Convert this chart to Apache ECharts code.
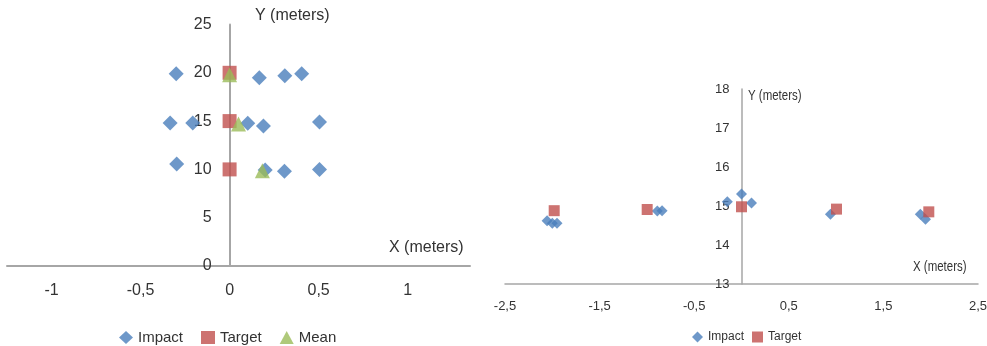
<!DOCTYPE html>
<html>
<head>
<meta charset="utf-8">
<script src="https://cdn.jsdelivr.net/npm/echarts@6/dist/echarts.min.js"></script>
<style>
  html, body { margin: 0; padding: 0; background: #fff; }
  #chart { width: 987px; height: 346px; }
</style>
</head>
<body>
<div id="chart"></div>
<script>
// Shot dispersion, three target distances (left panel)
const impactLeftX = [-0.30, 0.167, 0.31, 0.405, -0.334, -0.207, 0.102, 0.19, 0.505, -0.297, 0.20, 0.308, 0.505];
const impactLeftY = [19.9, 19.5, 19.7, 19.9, 14.8, 14.8, 14.77, 14.5, 14.9, 10.56, 9.94, 9.8, 10.0];
const targetLeftX = [0, 0, 0];
const targetLeftY = [20, 15, 10];
const meanLeftX = [0, 0.05, 0.184];
const meanLeftY = [19.8, 14.7, 9.87];

// Lateral offsets at 15 m (right panel)
const impactRightX = [-2.055, -2.0, -1.95, -0.89, -0.84, 0, -0.15, 0.106, 0.94, 1.89, 1.945];
const impactRightY = [14.62, 14.56, 14.56, 14.87, 14.88, 15.31, 15.11, 15.08, 14.79, 14.79, 14.66];
const targetRightX = [-1.98, -0.997, 0, 1.004, 1.98];
const targetRightY = [14.88, 14.91, 14.98, 14.92, 14.85];

const legendLeft = ['Impact', 'Target', 'Mean'];
const legendRight = ['Impact', 'Target'];

const BLUE = '#4A7EBB';
const RED = '#C0504D';
const GREEN = '#9BBB59';
const AXIS = '#a6a6a6';
const FONT = 'Liberation Sans, Arial, sans-serif';

const zip = (xs, ys) => xs.map((x, i) => [x, ys[i]]);
const comma = v => String(v).replace('.', ',');

// Panel geometry
const L = { left: 7, width: 463, top: 24.5, height: 241.5, xMin: -1.25, xMax: 1.35 };
const R = { left: 505, width: 473, top: 89, height: 195, xMin: -2.5, xMax: 2.5 };
// shift each vertical axis so it crosses the horizontal one at x = 0
const yShift = g => -(0 - g.xMin) / (g.xMax - g.xMin) * g.width;

const chart = echarts.init(document.getElementById('chart'), null, { renderer: 'canvas' });

chart.setOption({
  animation: false,
  backgroundColor: '#fff',
  grid: [
    { left: L.left, width: L.width, top: L.top, height: L.height, outerBoundsMode: 'none', containLabel: false },
    { left: R.left, width: R.width, top: R.top, height: R.height, outerBoundsMode: 'none', containLabel: false }
  ],
  xAxis: [
    {
      gridIndex: 0, type: 'value', min: L.xMin, max: L.xMax, interval: 0.25,
      axisLine: { onZero: false, lineStyle: { color: AXIS, width: 2 } },
      axisTick: { show: false },
      splitLine: { show: false },
      axisLabel: {
        margin: 17, color: '#333', fontFamily: FONT, fontSize: 16,
        showMinLabel: false, showMaxLabel: false,
        formatter: v => (Math.abs(v * 2 - Math.round(v * 2)) < 1e-6 ? comma(v) : '')
      }
    },
    {
      gridIndex: 1, type: 'value', min: R.xMin, max: R.xMax, interval: 1,
      axisLine: { onZero: false, lineStyle: { color: AXIS, width: 1.5 } },
      axisTick: { show: false },
      splitLine: { show: false },
      axisLabel: { margin: 16, color: '#333', fontFamily: FONT, fontSize: 13, formatter: comma }
    }
  ],
  yAxis: [
    {
      gridIndex: 0, type: 'value', min: 0, max: 25, interval: 5,
      position: 'left', offset: yShift(L),
      axisLine: { onZero: false, lineStyle: { color: AXIS, width: 2 } },
      axisTick: { show: false },
      splitLine: { show: false },
      axisLabel: { margin: 18, color: '#333', fontFamily: FONT, fontSize: 16 }
    },
    {
      gridIndex: 1, type: 'value', min: 13, max: 18, interval: 1,
      position: 'left', offset: yShift(R),
      axisLine: { onZero: false, lineStyle: { color: AXIS, width: 1.5 } },
      axisTick: { show: false },
      splitLine: { show: false },
      axisLabel: { margin: 12, color: '#333', fontFamily: FONT, fontSize: 13 }
    }
  ],
  legend: [
    {
      data: legendLeft, left: 114, top: 325, itemWidth: 14, itemHeight: 13, itemGap: 18,
      textStyle: { fontFamily: FONT, fontSize: 15, color: '#333' }
    },
    {
      data: legendRight, left: 687, top: 326, itemWidth: 11, itemHeight: 11, itemGap: 8,
      textStyle: { fontFamily: FONT, fontSize: 12, color: '#333' }
    }
  ],
  graphic: [
    { type: 'text', x: 255, y: 8, style: { text: 'Y (meters)', font: '16px ' + FONT, fill: '#333' } },
    { type: 'text', x: 389, y: 240, style: { text: 'X (meters)', font: '16px ' + FONT, fill: '#333' } },
    { type: 'text', x: 748, y: 89, scaleX: 0.82, style: { text: 'Y (meters)', font: '14px ' + FONT, fill: '#333' } },
    { type: 'text', x: 913, y: 260, scaleX: 0.82, style: { text: 'X (meters)', font: '14px ' + FONT, fill: '#333' } }
  ],
  series: [
    { name: 'Impact', type: 'scatter', xAxisIndex: 0, yAxisIndex: 0, symbol: 'diamond', symbolSize: 15,
      itemStyle: { color: BLUE }, data: zip(impactLeftX, impactLeftY) },
    { name: 'Target', type: 'scatter', xAxisIndex: 0, yAxisIndex: 0, symbol: 'rect', symbolSize: 14,
      itemStyle: { color: RED }, data: zip(targetLeftX, targetLeftY) },
    { name: 'Mean', type: 'scatter', xAxisIndex: 0, yAxisIndex: 0, symbol: 'triangle', symbolSize: 15,
      itemStyle: { color: GREEN }, data: zip(meanLeftX, meanLeftY) },
    { name: 'Impact', type: 'scatter', xAxisIndex: 1, yAxisIndex: 1, symbol: 'diamond', symbolSize: 11,
      itemStyle: { color: BLUE }, data: zip(impactRightX, impactRightY) },
    { name: 'Target', type: 'scatter', xAxisIndex: 1, yAxisIndex: 1, symbol: 'rect', symbolSize: 11,
      itemStyle: { color: RED }, data: zip(targetRightX, targetRightY) }
  ]
});
</script>
</body>
</html>
